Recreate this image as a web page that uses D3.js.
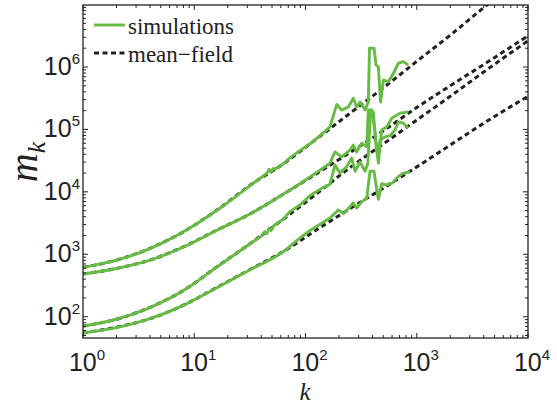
<!DOCTYPE html>
<html lang="en">
<head>
    <meta charset="UTF-8">
    <title>m_k versus k</title>
    <script src="https://d3js.org/d3.v7.min.js"></script>
    <style>
        body { margin: 0; background: #fff; }
        svg { display: block; }
        .tick-label { font-family: "Liberation Sans", Arial, sans-serif; font-size: 25px; fill: #222; }
        .legend-text { font-family: "Liberation Serif", "Times New Roman", serif; font-size: 23px; fill: #222; }
        .axis-title { font-family: "Liberation Serif", "Times New Roman", serif; font-style: italic; fill: #222; }
    </style>
</head>
<body>
<svg id="chart" width="557" height="408"></svg>
<script>
    // mean-field curves, sampled on a common k grid
    const kGrid = [1, 2, 4, 8, 16, 32, 64, 128, 256, 512, 1000, 2000, 4000, 10000];
    const mfA = [617, 807, 1242, 2296, 5105, 12850, 28640, 72440, 186200, 478600, 1230000, 3236000, 8913000, 31620000];
    const mfB = [482, 594, 807, 1318, 2443, 4467, 9333, 19950, 43650, 97720, 223900, 501200, 1096000, 3162000];
    const mfC = [71, 91, 141, 263, 631, 1496, 3715, 9550, 25120, 60260, 141300, 338800, 831800, 2630000];
    const mfD = [55, 68, 93, 153, 295, 575, 1122, 2512, 5495, 11750, 25120, 56230, 125900, 338800];

    // simulations: [k, m_k]
    const simA = [[1, 617], [2, 804], [4, 1230], [8, 2291], [16, 5070], [32, 12740], [40, 16980], [45, 19950],
        [47, 22910], [49, 20420], [51, 23440], [56, 23990], [63, 28180], [72, 34670], [89, 45710], [110, 58880],
        [141, 85110], [166, 109600], [191, 251200], [211, 204200], [243, 229100], [269, 316200], [288, 229100],
        [309, 275400], [343, 204200], [367, 275400], [376, 1995000], [413, 1995000], [431, 1072000], [452, 1000000],
        [473, 275400], [501, 616600], [556, 582100], [617, 794300], [684, 1148000], [759, 1216000], [839, 1072000]];
    const simB = [[1, 482], [2, 592], [4, 805], [8, 1310], [16, 2430], [32, 4450], [63, 9120], [89, 13490],
        [110, 17380], [141, 23440], [166, 28840], [184, 43650], [211, 36310], [251, 46770], [269, 56230],
        [288, 43650], [320, 60260], [355, 52480], [367, 204200], [394, 204200], [422, 89130], [452, 28840],
        [484, 97720], [537, 109600], [596, 151400], [708, 182000], [839, 190500]];
    const simC = [[1, 71], [2, 91], [4, 140], [8, 262], [16, 625], [32, 1490], [40, 1950], [43, 2291], [45, 2138],
        [47, 2630], [49, 2399], [52, 2884], [63, 3631], [72, 4786], [89, 6166], [110, 8710], [141, 11480],
        [166, 13180], [184, 26920], [204, 19950], [234, 25120], [260, 34670], [279, 21380], [309, 30200],
        [343, 21380], [363, 28180], [385, 190500], [407, 190500], [432, 50120], [447, 35480], [468, 67610],
        [519, 75860], [575, 79430], [638, 97720], [684, 131800], [759, 125900], [839, 104700]];
    const simD = [[1, 55], [2, 67], [4, 93], [8, 152], [16, 292], [32, 570], [63, 1096], [89, 1820], [110, 2399],
        [141, 3162], [166, 3802], [197, 5129], [219, 4467], [251, 5754], [269, 6607], [288, 5495], [320, 6918],
        [355, 7943], [380, 21380], [413, 21380], [431, 12590], [452, 7586], [484, 13490], [525, 12880],
        [603, 13800], [676, 17380], [759, 19950], [871, 20890]];
    // k where each simulation stops being smooth
    const noiseStart = [32, 141, 32, 141];

    const xDecades = [0, 1, 2, 3, 4];
    const yDecades = [2, 3, 4, 5, 6];
    const legendLabels = ["simulations", "mean\u2212field"];

    const green = "#66bc42";
    const dark = "#222";

    const svg = d3.select("#chart");
    const plot = { left: 83, right: 528, top: 5, bottom: 338 };

    const x = d3.scaleLog().domain([1, 1e4]).range([plot.left, plot.right]);
    const y = d3.scaleLog().domain([Math.pow(10, 1.659), Math.pow(10, 6.993)]).range([plot.bottom, plot.top]);

    svg.append("defs").append("clipPath").attr("id", "clip")
        .append("rect")
        .attr("x", plot.left).attr("y", plot.top)
        .attr("width", plot.right - plot.left).attr("height", plot.bottom - plot.top);

    const lines = svg.append("g").attr("clip-path", "url(#clip)");
    const smooth = d3.line().x(d => x(d[0])).y(d => y(d[1])).curve(d3.curveMonotoneX);
    const straight = d3.line().x(d => x(d[0])).y(d => y(d[1]));
    // simulations: smooth at small k, straight segments through the noisy tail
    const simLine = (pts, cut) => {
        const head = pts.filter(d => d[0] <= cut);
        const tail = pts.filter(d => d[0] >= cut);
        return smooth(head) + straight(tail).replace(/^M/, "L");
    };

    [mfA, mfB, mfC, mfD].forEach(vals => {
        lines.append("path")
            .attr("d", smooth(kGrid.map((k, i) => [k, vals[i]])))
            .attr("fill", "none")
            .attr("stroke", dark)
            .attr("stroke-width", 3)
            .attr("stroke-dasharray", "5,3.5");
    });

    [simA, simB, simC, simD].forEach((pts, i) => {
        lines.append("path")
            .attr("d", simLine(pts, noiseStart[i]))
            .attr("fill", "none")
            .attr("stroke", green)
            .attr("stroke-width", 2.9)
            .attr("stroke-linejoin", "round");
    });

    // box + inward ticks on all sides
    const axes = svg.append("g").attr("stroke", dark).attr("fill", "none");
    axes.append("rect")
        .attr("x", plot.left).attr("y", plot.top)
        .attr("width", plot.right - plot.left).attr("height", plot.bottom - plot.top)
        .attr("stroke-width", 1.3);

    const xTicks = [], yTicks = [];
    xDecades.forEach(e => {
        xTicks.push({ v: Math.pow(10, e), major: true });
        if (e < 4) for (let m = 2; m < 10; m++) xTicks.push({ v: m * Math.pow(10, e), major: false });
    });
    d3.range(1, 7).forEach(e => {
        for (let m = 1; m < 10; m++) {
            const v = m * Math.pow(10, e);
            if (v >= y.domain()[0] && v <= y.domain()[1]) yTicks.push({ v: v, major: m === 1 });
        }
    });

    xTicks.forEach(t => {
        const len = t.major ? 5 : 3, px = x(t.v);
        axes.append("line").attr("x1", px).attr("x2", px).attr("y1", plot.bottom).attr("y2", plot.bottom - len);
        axes.append("line").attr("x1", px).attr("x2", px).attr("y1", plot.top).attr("y2", plot.top + len);
    });
    yTicks.forEach(t => {
        const len = t.major ? 5 : 3, py = y(t.v);
        axes.append("line").attr("y1", py).attr("y2", py).attr("x1", plot.left).attr("x2", plot.left + len);
        axes.append("line").attr("y1", py).attr("y2", py).attr("x1", plot.right).attr("x2", plot.right - len);
    });

    // tick labels
    xDecades.forEach(e => {
        const t = svg.append("text").attr("class", "tick-label")
            .attr("x", x(Math.pow(10, e)) + 4).attr("y", 371)
            .attr("text-anchor", "middle");
        t.append("tspan").text("10");
        t.append("tspan").attr("dy", -11).attr("font-size", 15).text(e);
    });
    yDecades.forEach(e => {
        const t = svg.append("text").attr("class", "tick-label")
            .attr("x", 80).attr("y", y(Math.pow(10, e)) + 8)
            .attr("text-anchor", "end");
        t.append("tspan").text("10");
        t.append("tspan").attr("dy", -11).attr("font-size", 15).text(e);
    });

    // axis titles
    svg.append("text").attr("class", "axis-title")
        .attr("x", 305).attr("y", 400).attr("text-anchor", "middle")
        .attr("font-size", 25).text("k");
    const yt = svg.append("text").attr("class", "axis-title")
        .attr("transform", "translate(37,162) rotate(-90)")
        .attr("text-anchor", "middle").attr("font-size", 40);
    yt.append("tspan").text("m");
    yt.append("tspan").attr("font-size", 26).attr("dy", 8).text("k");

    // legend
    const legend = svg.append("g");
    legend.append("line").attr("x1", 94).attr("x2", 125).attr("y1", 25).attr("y2", 25)
        .attr("stroke", green).attr("stroke-width", 2.9);
    legend.append("line").attr("x1", 94).attr("x2", 125).attr("y1", 53).attr("y2", 53)
        .attr("stroke", dark).attr("stroke-width", 3).attr("stroke-dasharray", "5,3.5");
    legend.append("text").attr("class", "legend-text").attr("x", 128).attr("y", 34).text(legendLabels[0]);
    legend.append("text").attr("class", "legend-text").attr("x", 128).attr("y", 62).text(legendLabels[1]);
</script>
</body>
</html>
